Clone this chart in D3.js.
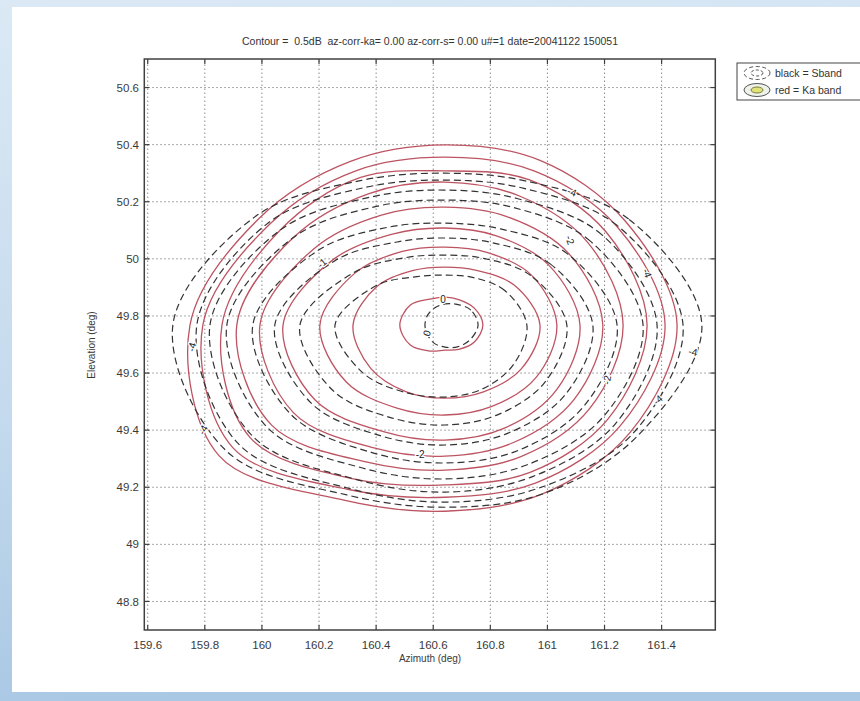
<!DOCTYPE html>
<html>
<head>
<meta charset="utf-8">
<script src="https://cdn.jsdelivr.net/npm/d3@7"></script>
<style>
  html, body { margin: 0; padding: 0; background: #fff; }
  svg { display: block; font-family: "Liberation Sans", Arial, Helvetica, sans-serif; }
</style>
</head>
<body>
<svg id="chart" width="860" height="701"></svg>
<script>
// ---- axis ticks (degrees) ----
const azTicks = [159.6, 159.8, 160, 160.2, 160.4, 160.6, 160.8, 161, 161.2, 161.4];
const elTicks = [48.8, 49, 49.2, 49.4, 49.6, 49.8, 50, 50.2, 50.4, 50.6];
const azDomain = [159.588, 161.588];
const elDomain = [48.7, 50.7];

// ---- contour geometry: centre of the beam and radius (deg) every 30 degrees ----
const beamCentre = [160.641, 49.768];
const bearings = [0, 30, 60, 90, 120, 150, 180, 210, 240, 270, 300, 330];

// Ka band (red) contours, 0 dB down to -4 dB in 0.5 dB steps
const kaLevels = [0, -0.5, -1, -1.5, -2, -2.5, -3, -3.5, -4];
const kaRadii = [
  [0.133, 0.119, 0.102, 0.098, 0.105, 0.140, 0.158, 0.140, 0.105, 0.088, 0.098, 0.119],
  [0.333, 0.280, 0.221, 0.203, 0.221, 0.273, 0.322, 0.301, 0.270, 0.256, 0.270, 0.308],
  [0.392, 0.350, 0.294, 0.273, 0.298, 0.364, 0.438, 0.399, 0.336, 0.315, 0.329, 0.368],
  [0.473, 0.420, 0.361, 0.340, 0.368, 0.455, 0.567, 0.525, 0.431, 0.403, 0.417, 0.452],
  [0.553, 0.501, 0.438, 0.413, 0.445, 0.532, 0.648, 0.613, 0.497, 0.459, 0.476, 0.522],
  [0.624, 0.578, 0.522, 0.501, 0.532, 0.613, 0.729, 0.701, 0.553, 0.508, 0.532, 0.585],
  [0.708, 0.652, 0.588, 0.540, 0.596, 0.666, 0.781, 0.788, 0.624, 0.560, 0.596, 0.659],
  [0.771, 0.694, 0.624, 0.588, 0.624, 0.708, 0.848, 0.858, 0.666, 0.603, 0.638, 0.708],
  [0.813, 0.729, 0.666, 0.631, 0.662, 0.750, 0.893, 0.914, 0.708, 0.652, 0.683, 0.750]
];

// S band (black dashed) contours, same levels
const sLevels = [0, -0.5, -1, -1.5, -2, -2.5, -3, -3.5, -4];
const sRadii = [
  [0.116, 0.105, 0.084, 0.074, 0.070, 0.070, 0.070, 0.070, 0.074, 0.077, 0.088, 0.102],
  [0.287, 0.242, 0.193, 0.175, 0.196, 0.277, 0.385, 0.333, 0.273, 0.252, 0.259, 0.277],
  [0.427, 0.347, 0.270, 0.245, 0.273, 0.368, 0.508, 0.455, 0.375, 0.350, 0.364, 0.403],
  [0.518, 0.427, 0.333, 0.305, 0.336, 0.448, 0.596, 0.543, 0.448, 0.420, 0.438, 0.487],
  [0.603, 0.497, 0.389, 0.357, 0.396, 0.518, 0.673, 0.624, 0.515, 0.483, 0.508, 0.564],
  [0.694, 0.588, 0.476, 0.438, 0.480, 0.613, 0.764, 0.718, 0.578, 0.539, 0.567, 0.641],
  [0.743, 0.634, 0.511, 0.473, 0.518, 0.666, 0.823, 0.778, 0.624, 0.585, 0.613, 0.690],
  [0.834, 0.697, 0.553, 0.508, 0.557, 0.715, 0.869, 0.834, 0.662, 0.620, 0.659, 0.760],
  [0.900, 0.743, 0.581, 0.532, 0.585, 0.764, 0.953, 0.883, 0.687, 0.638, 0.683, 0.778]
];

// inline contour labels: text, azimuth, elevation, rotation
const labelText = ["0", "0", "-1", "-4", "-2", "-4", "-4", "-2", "-4", "-2", "-4", "-4"];
const labelAz   = [160.634, 160.578, 160.210, 161.086, 161.079, 161.349, 161.510, 161.209, 161.387, 160.554, 159.755, 159.794];
const labelEl   = [49.856, 49.740, 49.985, 50.234, 50.066, 49.950, 49.674, 49.576, 49.506, 49.313, 49.691, 49.401];
const labelRot  = [0, -70, -40, 20, 70, 70, 10, -80, -40, 0, -75, -60];

const titleText = "Contour =  0.5dB  az-corr-ka= 0.00 az-corr-s= 0.00 u#=1 date=20041122 150051";
const legendItems = ["black = Sband", "red = Ka band"];

// ---- drawing ----
const svg = d3.select("#chart");
const defs = svg.append("defs");

const bg = defs.append("linearGradient").attr("id", "bgGrad")
  .attr("x1", 0).attr("y1", 0).attr("x2", 0.15).attr("y2", 1);
bg.append("stop").attr("offset", 0).attr("stop-color", "#dbe9f5");
bg.append("stop").attr("offset", 0.6).attr("stop-color", "#c3d9ed");
bg.append("stop").attr("offset", 1).attr("stop-color", "#a9c8e4");

svg.append("rect").attr("width", 860).attr("height", 701).attr("fill", "url(#bgGrad)");
svg.append("rect").attr("x", 12).attr("y", 7).attr("width", 848).attr("height", 685).attr("fill", "#ffffff");

const x = d3.scaleLinear().domain(azDomain).range([144.3, 715.3]);
const y = d3.scaleLinear().domain(elDomain).range([630, 59]);

const plot = svg.append("g");

// grid
plot.append("g").selectAll("line").data(azTicks).join("line")
  .attr("x1", d => x(d)).attr("x2", d => x(d))
  .attr("y1", y(elDomain[0])).attr("y2", y(elDomain[1]))
  .attr("stroke", "#8c8c8c").attr("stroke-width", 1).attr("stroke-dasharray", "1.5,2.5");
plot.append("g").selectAll("line").data(elTicks).join("line")
  .attr("y1", d => y(d)).attr("y2", d => y(d))
  .attr("x1", x(azDomain[0])).attr("x2", x(azDomain[1]))
  .attr("stroke", "#8c8c8c").attr("stroke-width", 1).attr("stroke-dasharray", "1.5,2.5");

// contour rings
const ring = d3.line().x(d => x(d[0])).y(d => y(d[1])).curve(d3.curveCatmullRomClosed.alpha(0.5));
function ringPoints(radii) {
  return bearings.map((b, i) => {
    const a = b * Math.PI / 180;
    return [beamCentre[0] + radii[i] * Math.cos(a), beamCentre[1] + radii[i] * Math.sin(a)];
  });
}

plot.append("g").selectAll("path").data(kaLevels).join("path")
  .attr("d", (lv, i) => ring(ringPoints(kaRadii[i])))
  .attr("fill", "none").attr("stroke", "#bd5462").attr("stroke-width", 1.3);

plot.append("g").selectAll("path").data(sLevels).join("path")
  .attr("d", (lv, i) => ring(ringPoints(sRadii[i])))
  .attr("fill", "none").attr("stroke", "#333").attr("stroke-width", 1.2)
  .attr("stroke-dasharray", "7,4");

// contour labels
plot.append("g").selectAll("text").data(labelText).join("text")
  .attr("transform", (t, i) => `translate(${x(labelAz[i])},${y(labelEl[i])}) rotate(${labelRot[i]})`)
  .attr("text-anchor", "middle").attr("dy", "0.35em")
  .attr("font-size", 10).attr("fill", "#222")
  .attr("stroke", "#fff").attr("stroke-width", 2.5).attr("paint-order", "stroke")
  .text(t => t);

// axes box and ticks
const box = svg.append("g").attr("stroke", "#404040").attr("fill", "none");
box.append("rect")
  .attr("x", x(azDomain[0])).attr("y", y(elDomain[1]))
  .attr("width", x(azDomain[1]) - x(azDomain[0]))
  .attr("height", y(elDomain[0]) - y(elDomain[1]))
  .attr("stroke-width", 1.5);

const tickLen = 5;
box.append("g").selectAll("line").data(azTicks).join("line")
  .attr("x1", d => x(d)).attr("x2", d => x(d))
  .attr("y1", y(elDomain[0])).attr("y2", y(elDomain[0]) - tickLen).attr("stroke-width", 1.2);
box.append("g").selectAll("line").data(azTicks).join("line")
  .attr("x1", d => x(d)).attr("x2", d => x(d))
  .attr("y1", y(elDomain[1])).attr("y2", y(elDomain[1]) + tickLen).attr("stroke-width", 1.2);
box.append("g").selectAll("line").data(elTicks).join("line")
  .attr("y1", d => y(d)).attr("y2", d => y(d))
  .attr("x1", x(azDomain[0])).attr("x2", x(azDomain[0]) + tickLen).attr("stroke-width", 1.2);
box.append("g").selectAll("line").data(elTicks).join("line")
  .attr("y1", d => y(d)).attr("y2", d => y(d))
  .attr("x1", x(azDomain[1])).attr("x2", x(azDomain[1]) - tickLen).attr("stroke-width", 1.2);

// tick labels
svg.append("g").selectAll("text").data(azTicks).join("text")
  .attr("x", d => x(d)).attr("y", 649)
  .attr("text-anchor", "middle").attr("font-size", 11.5).attr("fill", "#3a3a3a")
  .text(d => d3.format("~g")(d));
svg.append("g").selectAll("text").data(elTicks).join("text")
  .attr("x", 139).attr("y", d => y(d)).attr("dy", "0.36em")
  .attr("text-anchor", "end").attr("font-size", 11.5).attr("fill", "#3a3a3a")
  .text(d => d3.format("~g")(d));

// axis titles and chart title
svg.append("text").attr("x", 430).attr("y", 662).attr("text-anchor", "middle")
  .attr("font-size", 10).attr("fill", "#3a3a3a").text("Azimuth (deg)");
svg.append("text").attr("transform", "translate(95,345) rotate(-90)").attr("text-anchor", "middle")
  .attr("font-size", 10).attr("fill", "#3a3a3a").text("Elevation (deg)");
svg.append("text").attr("x", 430).attr("y", 45).attr("text-anchor", "middle")
  .attr("font-size", 10.5).attr("fill", "#333").attr("xml:space", "preserve").text(titleText);

// legend
const lg = svg.append("g").attr("transform", "translate(737,63)");
lg.append("rect").attr("width", 140).attr("height", 37).attr("fill", "#fff")
  .attr("stroke", "#444").attr("stroke-width", 1);
// S band icon: nested dashed rings
const ic1 = lg.append("g").attr("transform", "translate(20,10)");
ic1.append("ellipse").attr("rx", 13).attr("ry", 6.5).attr("fill", "none")
  .attr("stroke", "#555").attr("stroke-width", 1).attr("stroke-dasharray", "4,2.5");
ic1.append("ellipse").attr("rx", 6).attr("ry", 3).attr("fill", "none")
  .attr("stroke", "#555").attr("stroke-width", 1).attr("stroke-dasharray", "3,2");
// Ka band icon: filled rings
const ic2 = lg.append("g").attr("transform", "translate(20,27)");
ic2.append("ellipse").attr("rx", 13).attr("ry", 6.5).attr("fill", "#eef3ea")
  .attr("stroke", "#555").attr("stroke-width", 1);
ic2.append("ellipse").attr("rx", 6).attr("ry", 3).attr("fill", "#dfe37a")
  .attr("stroke", "#7a7a3a").attr("stroke-width", 1);
lg.selectAll("text.item").data(legendItems).join("text").attr("class", "item")
  .attr("x", 38).attr("y", (d, i) => 10 + i * 17).attr("dy", "0.35em")
  .attr("font-size", 10.5).attr("fill", "#333").text(d => d);
</script>
</body>
</html>
